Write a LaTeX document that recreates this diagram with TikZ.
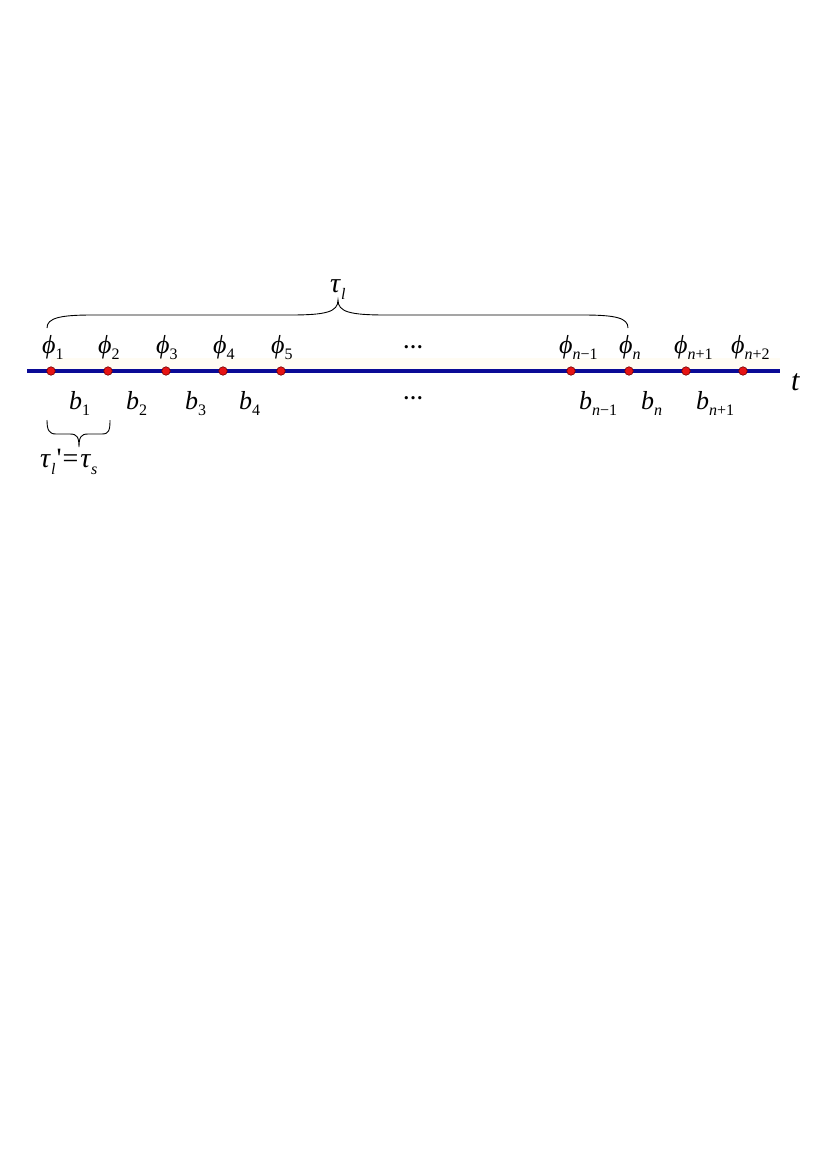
\documentclass[tikz,border=0pt]{standalone}
\usepackage{fontspec}
\setmainfont{Liberation Serif}
\newcommand{\lsub}[1]{\raisebox{-0.25em}{\fontsize{16}{16}\selectfont #1}}
\newcommand{\phl}[1]{\textit{ϕ}\lsub{#1}}
\newcommand{\bl}[1]{\textit{b}\lsub{#1}}
\definecolor{cream}{RGB}{255,252,243}
\definecolor{axisblue}{RGB}{10,10,150}
\definecolor{dotred}{RGB}{230,20,20}
\begin{document}
\begin{tikzpicture}[x=1pt,y=-1pt,
  dot/.style={circle,fill=dotred,draw=red!45!black,line width=0.6pt,inner sep=0pt,minimum size=8.5pt},
  lab/.style={font=\fontsize{26}{26}\selectfont,inner sep=0pt,anchor=base west},
  ell/.style={font=\bfseries\fontsize{20}{20}\selectfont,inner sep=0pt,anchor=base},
  axis/.style={draw=axisblue,line width=3.2pt},
  bracepath/.style={draw=black,line width=0.9pt}]
\useasboundingbox (0,0) rectangle (827,1168);
\fill[cream] (51,358) rectangle (780,369);
\coordinate (L) at (27,371);
\coordinate (R) at (780,371);
\draw[axis] (L) -- (R);
% dots
\node[dot] (d1) at (51,371) {};
\node[dot] (d2) at (108,371) {};
\node[dot] (d3) at (166,371) {};
\node[dot] (d4) at (223,371) {};
\node[dot] (d5) at (281,371) {};
\node[dot] (dnm) at (571,371) {};
\node[dot] (dn) at (629,371) {};
\node[dot] (dnp) at (686,371) {};
\node[dot] (dnpp) at (743,371) {};
% phi labels
\node[lab] (p1) at (42,353) {\phl{1}};
\node[lab] (p2) at (98,353) {\phl{2}};
\node[lab] (p3) at (156,353) {\phl{3}};
\node[lab] (p4) at (213,353) {\phl{4}};
\node[lab] (p5) at (271,353) {\phl{5}};
\node[ell] (e1) at (413,348) {…};
\node[lab] (pnm) at (559,353) {\phl{\textit{n}−1}};
\node[lab] (pn) at (619,353) {\phl{\textit{n}}};
\node[lab] (pnp) at (674,353) {\phl{\textit{n}+1}};
\node[lab] (pnpp) at (731,353) {\phl{\textit{n}+2}};
% b labels
\node[lab] (b1) at (69,409) {\bl{1}};
\node[lab] (b2) at (126,409) {\bl{2}};
\node[lab] (b3) at (185,409) {\bl{3}};
\node[lab] (b4) at (239,409) {\bl{4}};
\node[ell] (e2) at (413,399) {…};
\node[lab] (bnm) at (579,409) {\bl{\textit{n}−1}};
\node[lab] (bn) at (641,409) {\bl{\textit{n}}};
\node[lab] (bnp) at (696,409) {\bl{\textit{n}+1}};
% t
\node[lab,font=\fontsize{30}{30}\selectfont] (t) at (791,390) {\textit{t}};
% big brace
\coordinate (BA) at (47,328);
\coordinate (BT) at (338,300);
\coordinate (BB) at (628,328);
\draw[bracepath] (BA) .. controls (47,318) and (60,315) .. (92,315) -- (290,315)
  .. controls (326,315) and (338,312) .. (BT)
  .. controls (338,312) and (350,315) .. (386,315) -- (583,315)
  .. controls (616,315) and (628,318) .. (BB);
\node[lab,font=\fontsize{28}{28}\selectfont] (tl) at (330,292) {\textit{τ}\lsub{\textit{l}}};
% small brace
\coordinate (SA) at (47,420);
\coordinate (ST) at (79,447);
\coordinate (SB) at (110,420);
\draw[bracepath] (SA) .. controls (47,430) and (49,434) .. (56,434) -- (70,434)
  .. controls (77,434) and (79,437) .. (ST)
  .. controls (79,437) and (81,434) .. (88,434) -- (102,434)
  .. controls (109,434) and (110,430) .. (SB);
\node[lab,font=\fontsize{28}{28}\selectfont] (ts) at (40,467) {\textit{τ}\lsub{\textit{l}}\kern1pt\textquotesingle\kern1pt=\kern2pt\textit{τ}\lsub{\textit{s}}};
\end{tikzpicture}
\end{document}
